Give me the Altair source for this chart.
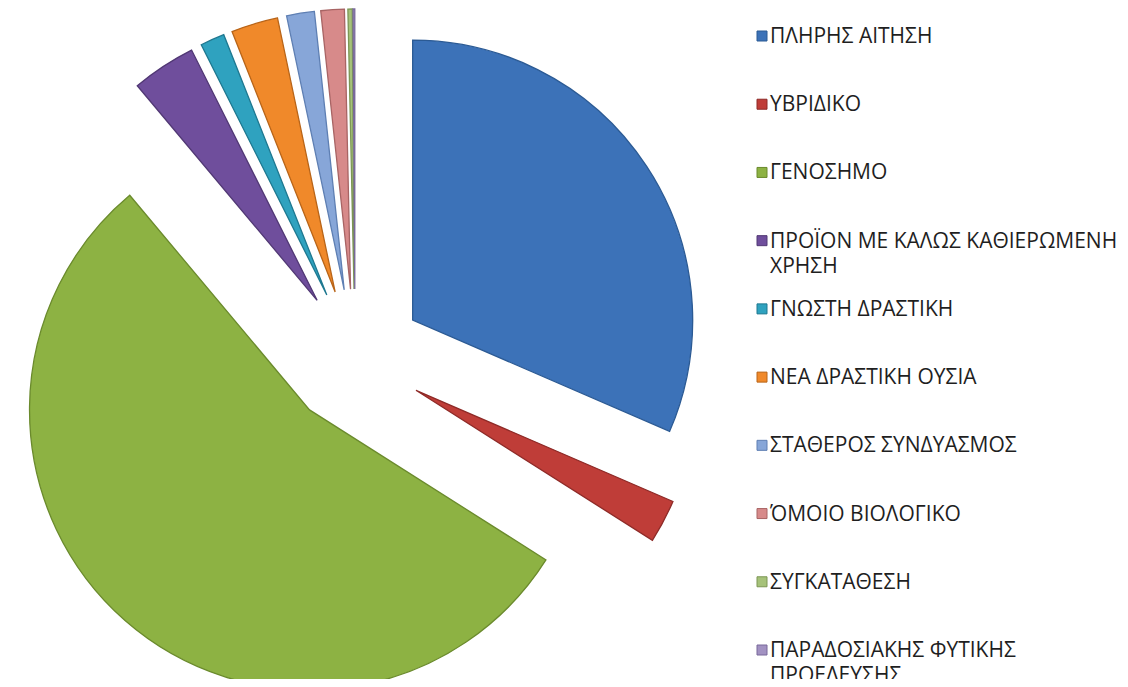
import math
import altair as alt
import pandas as pd

# ---- data ----
categories = [
    "ΠΛΗΡΗΣ ΑΙΤΗΣΗ",
    "ΥΒΡΙΔΙΚΟ",
    "ΓΕΝΟΣΗΜΟ",
    "ΠΡΟΪΟΝ ΜΕ ΚΑΛΩΣ ΚΑΘΙΕΡΩΜΕΝΗ ΧΡΗΣΗ",
    "ΓΝΩΣΤΗ ΔΡΑΣΤΙΚΗ",
    "ΝΕΑ ΔΡΑΣΤΙΚΗ ΟΥΣΙΑ",
    "ΣΤΑΘΕΡΟΣ ΣΥΝΔΥΑΣΜΟΣ",
    "ΌΜΟΙΟ ΒΙΟΛΟΓΙΚΟ",
    "ΣΥΓΚΑΤΑΘΕΣΗ",
    "ΠΑΡΑΔΟΣΙΑΚΗΣ ΦΥΤΙΚΗΣ ΠΡΟΕΛΕΥΣΗΣ",
]
shares = [31.5, 2.5, 54.9, 3.7, 1.4, 2.7, 1.6, 1.35, 0.25, 0.1]
legend_labels = [
    "ΠΛΗΡΗΣ ΑΙΤΗΣΗ",
    "ΥΒΡΙΔΙΚΟ",
    "ΓΕΝΟΣΗΜΟ",
    "ΠΡΟΪΟΝ ΜΕ ΚΑΛΩΣ ΚΑΘΙΕΡΩΜΕΝΗ\nΧΡΗΣΗ",
    "ΓΝΩΣΤΗ ΔΡΑΣΤΙΚΗ",
    "ΝΕΑ ΔΡΑΣΤΙΚΗ ΟΥΣΙΑ",
    "ΣΤΑΘΕΡΟΣ ΣΥΝΔΥΑΣΜΟΣ",
    "ΌΜΟΙΟ ΒΙΟΛΟΓΙΚΟ",
    "ΣΥΓΚΑΤΑΘΕΣΗ",
    "ΠΑΡΑΔΟΣΙΑΚΗΣ ΦΥΤΙΚΗΣ\nΠΡΟΕΛΕΥΣΗΣ",
]

# ---- styles ----
fill_colors = ["#3C72B8", "#BF3D38", "#8DB243", "#6F4E9C", "#2FA2BF",
               "#F0892A", "#87A6D8", "#D78A8A", "#A6C27A", "#A292C2"]
edge_colors = ["#2B5A94", "#8E2A27", "#6A8A2C", "#513874", "#1E7890",
               "#B86418", "#5E7FB3", "#A86464", "#7C9655", "#78699A"]

W, H = 1112, 671          # drawing area (page minus 8px margin)
CX, CY = 347, 350         # pie centre inside the drawing area
EXPLODE = 69              # explosion distance of every slice
R = 280                   # pie radius
TOTAL = sum(shares)

df = pd.DataFrame({
    "category": categories,
    "share": shares,
    "label": legend_labels,
    "order": list(range(len(categories))),
})

base = alt.Chart(df)

pie = (
    base.transform_window(
        cum="sum(share)", sort=[alt.SortField("order")], frame=[None, 0]
    )
    .transform_calculate(
        start="datum.cum - datum.share",
        mid=f"(datum.cum - datum.share / 2) / {TOTAL} * 2 * PI",
    )
    .transform_calculate(
        ox=f"{EXPLODE} * sin(datum.mid)",
        oy=f"{EXPLODE} * cos(datum.mid)",
    )
    .mark_arc(radius=R, strokeWidth=1.3)
    .encode(
        theta=alt.Theta("start:Q", scale=alt.Scale(domain=[0, TOTAL], range=[0, 2 * math.pi])),
        theta2="cum:Q",
        x=alt.X("ox:Q", scale=alt.Scale(domain=[-CX, W - CX], nice=False, zero=False), axis=None),
        y=alt.Y("oy:Q", scale=alt.Scale(domain=[-(H - CY), CY], nice=False, zero=False), axis=None),
        color=alt.Color("category:N", scale=alt.Scale(domain=categories, range=fill_colors), legend=None),
        stroke=alt.Stroke("category:N", scale=alt.Scale(domain=categories, range=edge_colors), legend=None),
        order=alt.Order("order:Q"),
    )
)

leg_y = alt.Y("category:N", scale=alt.Scale(type="point", domain=categories, range=[28, 642], padding=0), axis=None)

leg_sym = base.mark_square(size=100, opacity=1, strokeWidth=1).encode(
    x=alt.value(754),
    y=leg_y,
    color=alt.Color("category:N", scale=alt.Scale(domain=categories, range=fill_colors), legend=None),
    stroke=alt.Stroke("category:N", scale=alt.Scale(domain=categories, range=edge_colors), legend=None),
)

leg_txt = base.mark_text(
    align="left", baseline="top", lineBreak="\n", font="Open Sans",
    fontSize=21, lineHeight=25, dy=-10, color="#1f1f1f",
).encode(
    x=alt.value(762),
    y=leg_y,
    text="label:N",
)

chart = (
    alt.layer(pie, leg_sym, leg_txt)
    .resolve_scale(x="independent", y="independent", color="shared", stroke="shared")
    .properties(width=W, height=H, padding=0, autosize="none", background="white")
    .configure_view(stroke=None, strokeWidth=0)
)

chart.save("out.html", embed_options={"renderer": "svg", "actions": False})
